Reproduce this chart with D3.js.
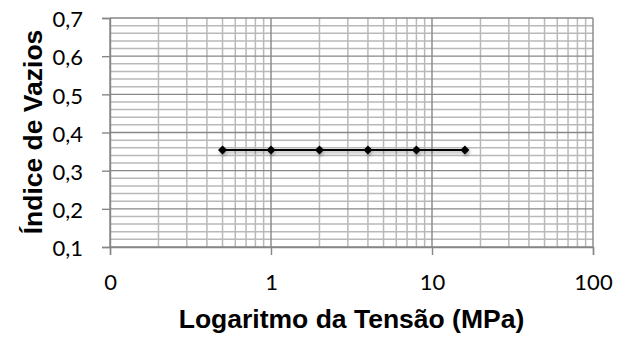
<!DOCTYPE html>
<meta charset="utf-8">
<style>
body { margin: 0; background: #fff; }
svg { display: block; font-family: "Liberation Sans", Arial, sans-serif; }
</style>
<svg width="629" height="338"></svg>
<script src="https://cdn.jsdelivr.net/npm/d3@7"></script>
<script>

// data
var tensao = [0.5, 1, 2, 4, 8, 16]
var vazios = [0.354, 0.354, 0.354, 0.354, 0.354, 0.354]
var xTicks = [0.1, 1, 10, 100]
var xTickLabels = ["0", "1", "10", "100"]
var yTicks = [0.1, 0.2, 0.3, 0.4, 0.5, 0.6, 0.7]

var svg = d3.select("svg")

var x = d3.scaleLog().domain([0.1, 100]).range([110, 593])
var y = d3.scaleLinear().domain([0.1, 0.7]).range([247, 18])

var defs = svg.append("defs")
var f = defs.append("filter").attr("id", "shadow")
  .attr("x", "-50%").attr("y", "-50%").attr("width", "200%").attr("height", "200%")
f.append("feDropShadow")
  .attr("dx", 1).attr("dy", 2).attr("stdDeviation", 1.6)
  .attr("flood-color", "#000").attr("flood-opacity", 0.35)

// minor gridlines
var xMinor = []
for (var dec = 0.1; dec < 100; dec *= 10)
  for (var k = 2; k <= 9; k++) xMinor.push(dec * k)
var yMinor = d3.range(0.1, 0.7001, 0.02).filter(function(v){ return Math.abs(v*10 - Math.round(v*10)) > 1e-6 })

var grid = svg.append("g")
grid.selectAll("line.xm").data(xMinor).enter().append("line")
  .attr("x1", function(d){ return x(d) }).attr("x2", function(d){ return x(d) })
  .attr("y1", y(0.7)).attr("y2", y(0.1))
  .attr("stroke", "#b9b9b9").attr("stroke-width", 1.5)
grid.selectAll("line.ym").data(yMinor).enter().append("line")
  .attr("x1", x(0.1)).attr("x2", x(100))
  .attr("y1", function(d){ return y(d) }).attr("y2", function(d){ return y(d) })
  .attr("stroke", "#b9b9b9").attr("stroke-width", 1.5)

// major gridlines
grid.selectAll("line.xM").data(xTicks).enter().append("line")
  .attr("x1", function(d){ return x(d) }).attr("x2", function(d){ return x(d) })
  .attr("y1", y(0.7)).attr("y2", y(0.1))
  .attr("stroke", "#878787").attr("stroke-width", 1.4)
grid.selectAll("line.yM").data(yTicks).enter().append("line")
  .attr("x1", x(0.1)).attr("x2", x(100))
  .attr("y1", function(d){ return y(d) }).attr("y2", function(d){ return y(d) })
  .attr("stroke", "#878787").attr("stroke-width", 1.4)

// axes
var fmt = d3.format(".1f")
var yAxis = d3.axisLeft(y).tickValues(yTicks).tickSize(8).tickPadding(19)
  .tickFormat(function(d){ return fmt(d).replace(".", ",") })
var gy = svg.append("g").attr("transform", "translate(" + x(0.1) + ",0)").call(yAxis)

var xAxis = d3.axisBottom(x).tickValues(xTicks).tickSize(8).tickPadding(19)
  .tickFormat(function(d, i){ return xTickLabels[i] })
var gx = svg.append("g").attr("transform", "translate(0," + y(0.1) + ")").call(xAxis)

;[gx, gy].forEach(function(g){
  g.attr("font-size", null).attr("font-family", null)
  g.select(".domain").attr("stroke", "#868686").attr("stroke-width", 1.4)
  g.selectAll(".tick line").attr("stroke", "#868686").attr("stroke-width", 1.4)
  g.selectAll(".tick text").attr("fill", "#000")
    .style("font-size", "22px").style("font-family", "Lato, 'Open Sans', sans-serif")
})
gy.selectAll(".tick text").attr("dy", "0.4em")

// series
var line = d3.line().x(function(d, i){ return x(tensao[i]) }).y(function(d){ return y(d) })
var series = svg.append("g").attr("filter", "url(#shadow)")
series.append("path").datum(vazios)
  .attr("d", line).attr("fill", "none").attr("stroke", "#000").attr("stroke-width", 2)
series.selectAll("path.pt").data(vazios).enter().append("path")
  .attr("class", "pt")
  .attr("d", d3.symbol().type(d3.symbolDiamond2).size(52))
  .attr("transform", function(d, i){ return "translate(" + x(tensao[i]) + "," + y(d) + ")" })
  .attr("fill", "#000")

// titles
svg.append("text")
  .attr("x", (x(0.1) + x(100)) / 2).attr("y", 328)
  .attr("text-anchor", "middle").attr("font-weight", "bold")
  .style("font-size", "26.5px")
  .text("Logaritmo da Tensão (MPa)")

svg.append("text")
  .attr("transform", "translate(42,132) rotate(-90)")
  .attr("text-anchor", "middle").attr("font-weight", "bold")
  .style("font-size", "26.5px")
  .text("Índice de Vazios")

</script>
